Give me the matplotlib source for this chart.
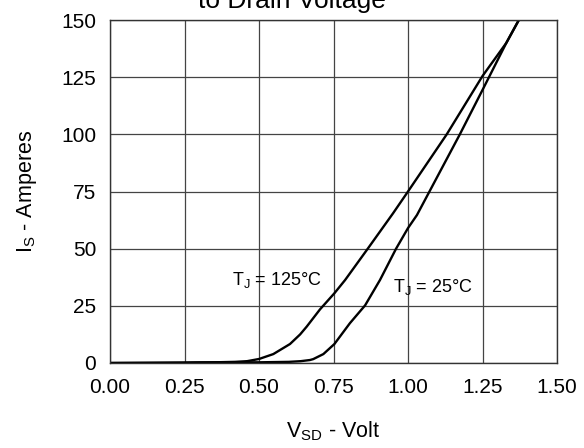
import matplotlib
matplotlib.use("Agg")
import matplotlib.pyplot as plt

plt.rcParams['font.family'] = ['Liberation Sans', 'DejaVu Sans']
plt.rcParams['mathtext.fontset'] = 'custom'
plt.rcParams['mathtext.rm'] = 'Liberation Sans'

# Data
v_125 = [0.0, 0.25, 0.35, 0.42, 0.46, 0.50, 0.548, 0.604, 0.638, 0.66, 0.705,
         0.753, 0.789, 0.865, 0.95, 1.00, 1.13, 1.25, 1.33, 1.372]
i_125 = [0.0, 0.0, 0.3, 0.5, 0.8, 1.75, 3.9, 8.3, 12.5, 15.9, 23.5,
         30.5, 36.3, 50.0, 65.5, 75.0, 100.0, 125.5, 140.0, 150.0]

v_25 = [0.0, 0.30, 0.50, 0.60, 0.64, 0.671, 0.682, 0.716, 0.753, 0.805, 0.856,
        0.906, 0.96, 1.00, 1.03, 1.174, 1.25, 1.33, 1.372]
i_25 = [0.0, 0.3, 0.3, 0.5, 0.8, 1.3, 1.7, 3.9, 8.3, 17.4, 25.2,
        36.3, 50.0, 59.0, 64.7, 100.0, 119.4, 140.0, 150.0]

x_ticks = [0.0, 0.25, 0.5, 0.75, 1.0, 1.25, 1.5]
x_tick_labels = ["0.00", "0.25", "0.50", "0.75", "1.00", "1.25", "1.50"]
y_ticks = [0, 25, 50, 75, 100, 125, 150]

fig = plt.figure(figsize=(5.84, 4.48), dpi=100)
ax = fig.add_axes([110/584, 1-363/448, (557-110)/584, (363-20)/448])

ax.plot(v_125, i_125, color='black', lw=1.7, solid_joinstyle='round')
ax.plot(v_25, i_25, color='black', lw=1.7, solid_joinstyle='round')

ax.set_xlim(0, 1.5)
ax.set_ylim(0, 150)
ax.set_xticks(x_ticks)
ax.set_xticklabels(x_tick_labels)
ax.set_yticks(y_ticks)
ax.tick_params(labelsize=15, length=0)
ax.tick_params(axis='x', pad=11)
ax.tick_params(axis='y', pad=10)
ax.grid(True, color='#444444', lw=0.9)
for s in ax.spines.values():
    s.set_color('#333333')
    s.set_linewidth(1.0)

ax.set_xlabel(r'V$_{\mathregular{SD}}$ - Volt', fontsize=15.5, labelpad=16)
ax.set_ylabel(r'I$_{\mathregular{S}}$ - Amperes', fontsize=15.5, labelpad=16)

ax.text(0.41, 34, r'T$_{\mathregular{J}}$ = 125°C', fontsize=13, va='baseline')
ax.text(0.95, 31, r'T$_{\mathregular{J}}$ = 25°C', fontsize=13, va='baseline')

fig.text(0.5, 1 - 8/448, 'to Drain Voltage', ha='center', va='baseline', fontsize=19)

fig.savefig('out.png', dpi=100)
